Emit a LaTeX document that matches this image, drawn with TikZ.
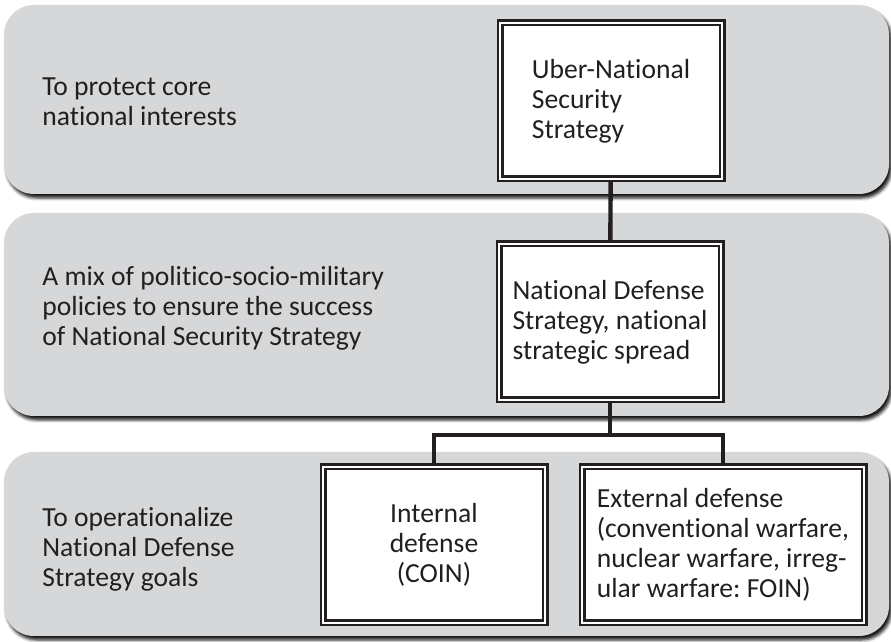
\documentclass[tikz,border=0pt]{standalone}
\usepackage{fontspec}
\setmainfont{Carlito}[Ligatures=NoCommon]
\usetikzlibrary{shadows.blur, calc}
\definecolor{bandgrey}{HTML}{D6D7D9}
\definecolor{inkblack}{HTML}{231F20}
\frenchspacing
\begin{document}
\begin{tikzpicture}[x=0.5pt, y=-0.5pt,
    band/.style={fill=bandgrey, rounded corners=15pt,
      blur shadow={shadow xshift=1.3pt, shadow yshift=-2pt,
        shadow blur radius=1.5pt, shadow opacity=90}},
    goal/.style={anchor=west, align=left, inner sep=0pt, text=inkblack,
      font=\fontsize{13.8}{15}\selectfont},
    stratbox/.style={draw=inkblack, line width=1.3pt, double=white,
      double distance=0.9pt, fill=white, align=left, text=inkblack,
      font=\fontsize{13.8}{15}\selectfont, minimum height=78pt},
    link/.style={draw=inkblack, line width=2.2pt}]
  \useasboundingbox (0,0) rectangle (891,642);
  % bands
  \path[band] (4,5) rectangle (889,194);
  \path[band] (4,213) rectangle (889,416);
  \path[band] (4,452) rectangle (889,636);
  % band texts
  \node[goal] (goal1) at (42,102) {To protect core\\national interests};
  \node[goal] (goal2) at (42,308) {A mix of politico-socio-military\\policies to ensure the success\\of National Security Strategy};
  \node[goal] (goal3) at (42,549) {To operationalize\\National Defense\\Strategy goals};
  % strategy boxes
  \node[stratbox, minimum width=111pt] (uber) at (611,101)
       {Uber-National\\Security\\Strategy};
  \node[stratbox, minimum width=111pt] (nds) at (610,322)
       {National Defense\\Strategy, national\\strategic spread};
  \node[stratbox, minimum width=111pt, align=center] (internal) at (434,545)
       {Internal\\defense\\(COIN)};
  \node[stratbox, minimum width=141pt] (external) at (723,545)
       {External defense\\(conventional warfare,\\nuclear warfare, irreg-\\ular warfare: FOIN)};
  % connectors
  \coordinate (fork) at ($(nds.south)+(0,34)$);
  \draw[link] (uber) -- (nds);
  \draw[link] (nds) -- (fork);
  \draw[link] (fork) -| (internal);
  \draw[link] (fork) -| (external);
\end{tikzpicture}
\end{document}
